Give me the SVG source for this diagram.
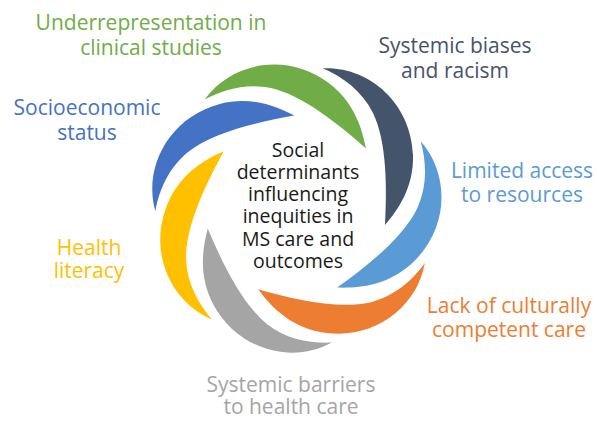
<svg xmlns="http://www.w3.org/2000/svg" width="597" height="421" viewBox="0 0 597 421">
<style>
text{font-family:"Open Sans","Liberation Sans",sans-serif;text-anchor:middle}
.lab{font-size:21px}
.ctr{font-size:19.5px;fill:#1a1a1a}
</style>
<defs>
<path id="petal" d="M322.7,68.3 C368,66 411,102 413,155 C414,188 397,211 385,225 C387,188 387,142 373,113 C362,91 343,77 322.7,68.3 Z"/>
</defs>
<rect width="597" height="421" fill="#fff"/>
<g id="petals">
<g id="n-green"><use href="#petal" fill="#70AD47" transform="rotate(-51.43 296 206.5)"/></g>
<g id="n-navy"><use href="#petal" fill="#44546A"/></g>
<g id="n-lightblue"><use href="#petal" fill="#5B9BD5" transform="rotate(51.43 296 206.5)"/></g>
<g id="n-orange"><use href="#petal" fill="#ED7D31" transform="rotate(102.86 296 206.5)"/></g>
<g id="n-gray"><use href="#petal" fill="#A5A5A5" transform="rotate(154.29 296 206.5)"/></g>
<g id="n-yellow"><use href="#petal" fill="#FFC000" transform="rotate(205.71 296 206.5)"/></g>
<g id="n-blue"><use href="#petal" fill="#4472C4" transform="rotate(257.14 296 206.5)"/></g>
</g>
<g id="center">
<text class="ctr" x="298" y="157">Social</text>
<text class="ctr" x="298" y="179">determinants</text>
<text class="ctr" x="298" y="201">influencing</text>
<text class="ctr" x="298" y="223">inequities in</text>
<text class="ctr" x="298" y="246">MS care and</text>
<text class="ctr" x="298" y="268">outcomes</text>
</g>
<g id="labels">
<g id="t-under" fill="#70AD47"><text class="lab" x="151" y="30">Underrepresentation in</text><text class="lab" x="151" y="55">clinical studies</text></g>
<g id="t-sys" fill="#44546A"><text class="lab" x="455" y="53">Systemic biases</text><text class="lab" x="455" y="78">and racism</text></g>
<g id="t-lim" fill="#5B9BD5"><text class="lab" x="522" y="178">Limited access</text><text class="lab" x="522" y="202">to resources</text></g>
<g id="t-lack" fill="#ED7D31"><text class="lab" x="509" y="313">Lack of culturally</text><text class="lab" x="509" y="337">competent care</text></g>
<g id="t-bar" fill="#A5A5A5"><text class="lab" x="291" y="392">Systemic barriers</text><text class="lab" x="291" y="414">to health care</text></g>
<g id="t-health" fill="#FFC000"><text class="lab" x="89" y="255">Health</text><text class="lab" x="89" y="278">literacy</text></g>
<g id="t-socio" fill="#4472C4"><text class="lab" x="87" y="115">Socioeconomic</text><text class="lab" x="87" y="140">status</text></g>
</g>
</svg>
